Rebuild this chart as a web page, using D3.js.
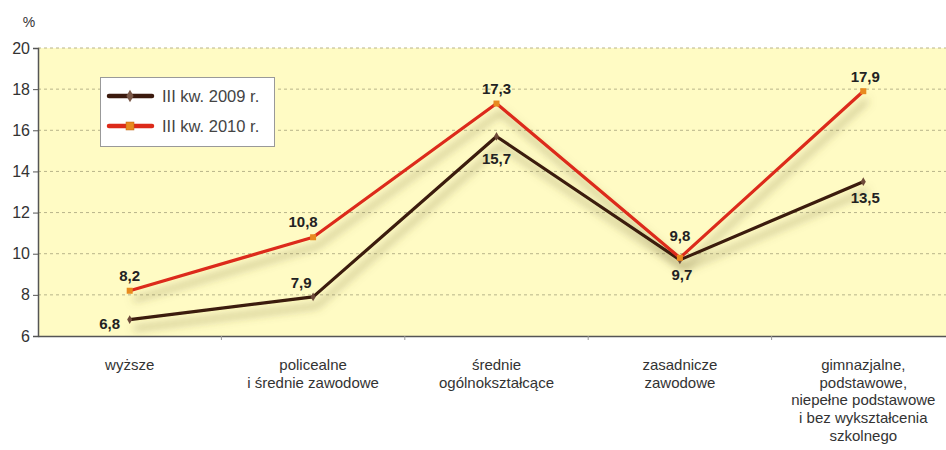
<!DOCTYPE html>
<html><head><meta charset="utf-8">
<script src="https://cdn.jsdelivr.net/npm/d3@7"></script>
<style>
body{margin:0;background:#fff;}
svg{display:block;}
text{font-family:"Liberation Sans",Arial,sans-serif;}
</style></head>
<body>
<svg id="c" width="946" height="450"></svg>
<script>
const categories = [
  ["wyższe"],
  ["policealne","i średnie zawodowe"],
  ["średnie","ogólnokształcące"],
  ["zasadnicze","zawodowe"],
  ["gimnazjalne,","podstawowe,","niepełne podstawowe","i bez wykształcenia","szkolnego"]
];
const series2009 = [6.8, 7.9, 15.7, 9.7, 13.5];
const series2010 = [8.2, 10.8, 17.3, 9.8, 17.9];
const yTicks = [6, 8, 10, 12, 14, 16, 18, 20];
const seriesNames = ["III kw. 2009 r.", "III kw. 2010 r."];

(function(){
const svg = d3.select("#c");
const mL = 38, mT = 48, mB = 336, mR = 955;
const x = d3.scaleBand().domain(d3.range(categories.length)).range([mL, mR]);
const y = d3.scaleLinear().domain([6, 20]).range([mB, mT]);

const defs = svg.append("defs");
const f = defs.append("filter").attr("id","sh").attr("x","-20%").attr("y","-50%").attr("width","140%").attr("height","200%");
f.append("feGaussianBlur").attr("in","SourceAlpha").attr("stdDeviation",4.5).attr("result","b");
f.append("feOffset").attr("in","b").attr("dx",4).attr("dy",9).attr("result","o");
f.append("feFlood").attr("flood-color","#6b6030").attr("flood-opacity",0.55).attr("result","c");
f.append("feComposite").attr("in","c").attr("in2","o").attr("operator","in").attr("result","s");
const m = f.append("feMerge");
m.append("feMergeNode").attr("in","s");
m.append("feMergeNode").attr("in","SourceGraphic");

svg.append("rect").attr("x",mL).attr("y",mT).attr("width",mR-mL).attr("height",mB-mT).attr("fill","#fffbc4");

svg.append("g").selectAll("line").data(yTicks.filter(d=>d>6)).join("line")
  .attr("x1",mL).attr("x2",946).attr("y1",d=>y(d)).attr("y2",d=>y(d))
  .attr("stroke","#b8b48a").attr("stroke-width",1).attr("stroke-dasharray","3,3");

const ya = svg.append("g").attr("transform",`translate(${mL},0)`)
  .call(d3.axisLeft(y).tickValues(yTicks).tickSize(5).tickPadding(3).tickFormat(d3.format("d")));
ya.select(".domain").attr("stroke","#555").attr("stroke-width",1.5);
ya.selectAll(".tick line").attr("stroke","#555");
ya.selectAll(".tick text").attr("fill","#333").attr("font-size",16).style("font-family","'Liberation Sans',Arial,sans-serif");

svg.append("text").attr("x",29).attr("y",27).attr("text-anchor","middle").attr("font-size",14).attr("fill","#333").text("%");

const xa = svg.append("g").attr("transform",`translate(0,${mB})`)
  .call(d3.axisBottom(x).tickValues([]).tickSizeOuter(0));
xa.select(".domain").attr("stroke","#555").attr("stroke-width",1.5);
svg.append("g").selectAll("line").data(d3.range(1,categories.length)).join("line")
  .attr("x1",d=>x(d)).attr("x2",d=>x(d)).attr("y1",mB).attr("y2",mB+4).attr("stroke","#999");

svg.append("g").selectAll("text").data(categories).join("text")
  .attr("text-anchor","middle").attr("font-size",15).attr("fill","#333")
  .each(function(lines,i){
    const t = d3.select(this);
    lines.forEach((l,j)=>{
      t.append("tspan").attr("x",x(i)+x.bandwidth()/2).attr("y",370+j*17.7).text(l);
    });
  });

const line = d3.line().x((d,i)=>x(i)+x.bandwidth()/2).y(d=>y(d));
const colors = ["#3b1a0e","#dc2a1a"];
const sg = svg.append("g").attr("filter","url(#sh)");
sg.append("path").datum(series2009).attr("d",line).attr("fill","none").attr("stroke",colors[0]).attr("stroke-width",3.2).attr("stroke-linejoin","round");
sg.append("path").datum(series2010).attr("d",line).attr("fill","none").attr("stroke",colors[1]).attr("stroke-width",3.2).attr("stroke-linejoin","round");

svg.append("g").selectAll("path").data(series2009).join("path")
  .attr("d",d3.symbol(d3.symbolDiamond,22))
  .attr("transform",(d,i)=>`translate(${x(i)+x.bandwidth()/2},${y(d)})`).attr("fill","#6e4a3a");
svg.append("g").selectAll("rect").data(series2010).join("rect")
  .attr("x",(d,i)=>x(i)+x.bandwidth()/2-3).attr("y",d=>y(d)-3).attr("width",6).attr("height",6).attr("fill","#e88a1e");

const fmt = d => d.toFixed(1).replace(".",",");
const off2009 = [[-20,9],[-12,-9],[0,28],[2,20],[2,21]];
const off2010 = [[0,-10],[-10,-10],[0,-10],[0,-17],[2,-9]];
const lab = (data, offs) => svg.append("g").selectAll("text").data(data).join("text")
  .attr("x",(d,i)=>x(i)+x.bandwidth()/2+offs[i][0]).attr("y",(d,i)=>y(d)+offs[i][1])
  .attr("text-anchor","middle").attr("font-size",15).attr("font-weight","bold").attr("fill","#222").text(fmt);
lab(series2009, off2009);
lab(series2010, off2010);

const lg = svg.append("g");
lg.append("rect").attr("x",100.5).attr("y",77.5).attr("width",174).attr("height",69).attr("fill","#fff").attr("stroke","#999");
[0,1].forEach(i=>{
  const yy = 96 + i*30;
  lg.append("line").attr("x1",109).attr("x2",152).attr("y1",yy).attr("y2",yy).attr("stroke",colors[i]).attr("stroke-width",4.5).attr("stroke-linecap","round");
  if(i===0) lg.append("path").attr("d",d3.symbol(d3.symbolDiamond,45)).attr("transform",`translate(130,${yy})`).attr("fill","#7a5848");
  else lg.append("rect").attr("x",126).attr("y",yy-4).attr("width",8).attr("height",8).attr("fill","#e88a1e").attr("stroke","#c06010").attr("stroke-width",0.5);
  lg.append("text").attr("x",162).attr("y",yy+6).attr("font-size",16.5).attr("fill","#444").text(seriesNames[i]);
});
})();
</script>
</body></html>
